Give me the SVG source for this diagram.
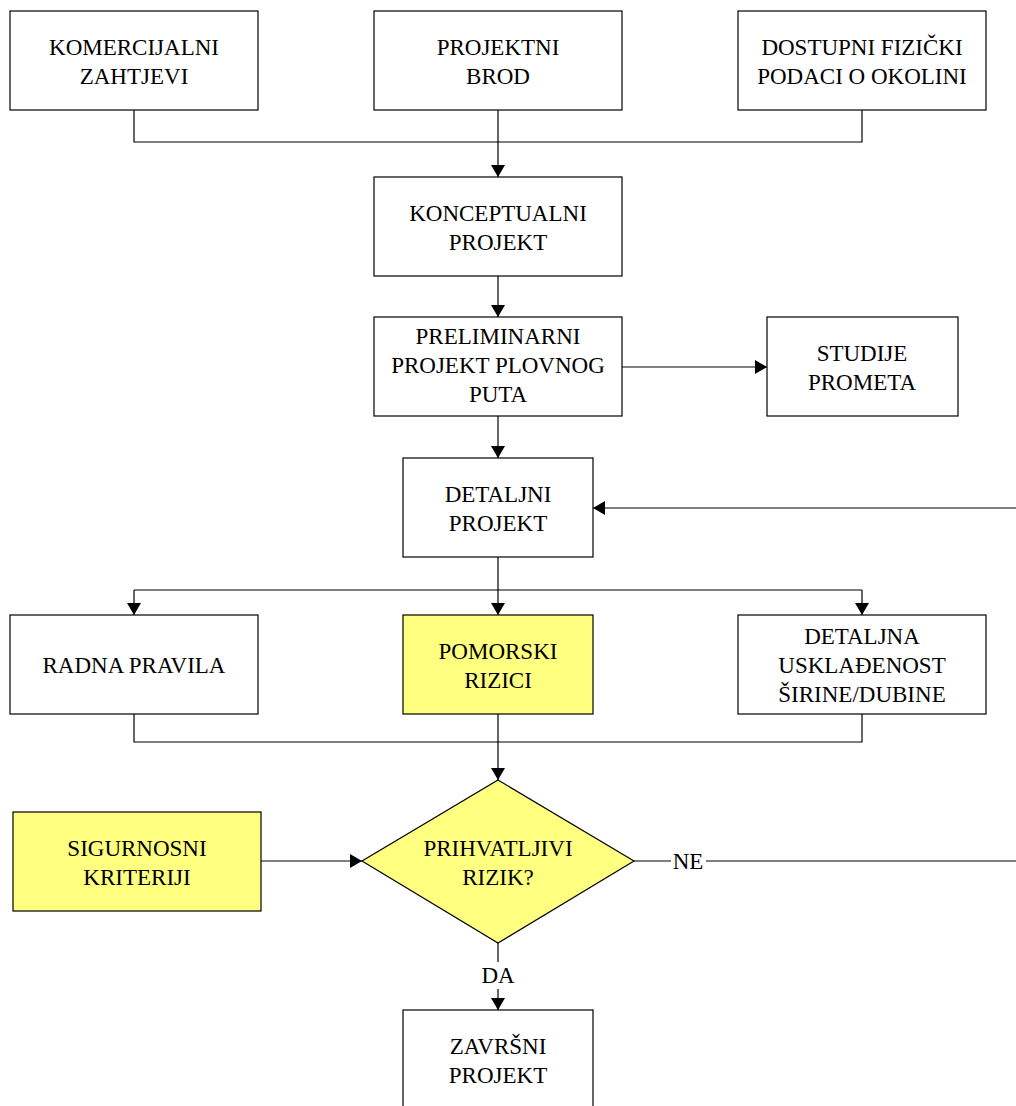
<svg xmlns="http://www.w3.org/2000/svg" width="1016" height="1106" viewBox="0 0 1016 1106">
<style>
.box{fill:#fff;stroke:#000;stroke-width:1.2}
.y{fill:#ffff80}
.t{font-family:"Liberation Serif","Times New Roman",serif;font-size:23px;text-anchor:middle;fill:#000}
.c{fill:none;stroke:#000;stroke-width:1.2}
</style>
<defs>
<marker id="ab" viewBox="0 0 12 14" refX="12" refY="7" markerWidth="12" markerHeight="14" markerUnits="userSpaceOnUse" orient="auto"><path d="M0,0 L12,7 L0,14 z" fill="#000"/></marker>
</defs>
<rect width="1016" height="1106" fill="#fff"/>
<g id="connectors">
<path class="c" d="M134,110 V142 H862 V110 M498,110 V142"/>
<path class="c" d="M498,142 V177" marker-end="url(#ab)"/>
<path class="c" d="M498,276 V317" marker-end="url(#ab)"/>
<path class="c" d="M622,367 H767" marker-end="url(#ab)"/>
<path class="c" d="M498,416 V458" marker-end="url(#ab)"/>
<path class="c" d="M1016,508 H593" marker-end="url(#ab)"/>
<path class="c" d="M498,557 V590 M134,590 H862"/>
<path class="c" d="M134,590 V615" marker-end="url(#ab)"/>
<path class="c" d="M498,590 V615" marker-end="url(#ab)"/>
<path class="c" d="M862,590 V615" marker-end="url(#ab)"/>
<path class="c" d="M134,714 V742 H862 V714 M498,714 V742"/>
<path class="c" d="M498,742 V780" marker-end="url(#ab)"/>
<path class="c" d="M261,861 H362" marker-end="url(#ab)"/>
<path class="c" d="M634,861 H671 M706,861 H1016"/>
<text class="t" x="688" y="869">NE</text>
<path class="c" d="M498,943 V962"/>
<text class="t" x="498" y="983">DA</text>
<path class="c" d="M498,989 V1010" marker-end="url(#ab)"/>
</g>
<g id="n1"><rect class="box" x="10" y="11" width="248" height="99"/><text class="t" x="134" y="55">KOMERCIJALNI</text><text class="t" x="134" y="84">ZAHTJEVI</text></g>
<g id="n2"><rect class="box" x="374" y="11" width="248" height="99"/><text class="t" x="498" y="55">PROJEKTNI</text><text class="t" x="498" y="84">BROD</text></g>
<g id="n3"><rect class="box" x="738" y="11" width="248" height="99"/><text class="t" x="862" y="55">DOSTUPNI FIZIČKI</text><text class="t" x="862" y="84">PODACI O OKOLINI</text></g>
<g id="n4"><rect class="box" x="374" y="177" width="248" height="99"/><text class="t" x="498" y="221">KONCEPTUALNI</text><text class="t" x="498" y="250">PROJEKT</text></g>
<g id="n5"><rect class="box" x="374" y="317" width="248" height="99"/><text class="t" x="498" y="344">PRELIMINARNI</text><text class="t" x="498" y="373">PROJEKT PLOVNOG</text><text class="t" x="498" y="402">PUTA</text></g>
<g id="n6"><rect class="box" x="767" y="317" width="191" height="99"/><text class="t" x="862" y="361">STUDIJE</text><text class="t" x="862" y="390">PROMETA</text></g>
<g id="n7"><rect class="box" x="403" y="458" width="190" height="99"/><text class="t" x="498" y="502">DETALJNI</text><text class="t" x="498" y="531">PROJEKT</text></g>
<g id="n8"><rect class="box" x="10" y="615" width="248" height="99"/><text class="t" x="134" y="673">RADNA PRAVILA</text></g>
<g id="n9"><rect class="box y" x="403" y="615" width="190" height="99"/><text class="t" x="498" y="659">POMORSKI</text><text class="t" x="498" y="688">RIZICI</text></g>
<g id="n10"><rect class="box" x="738" y="615" width="248" height="99"/><text class="t" x="862" y="644">DETALJNA</text><text class="t" x="862" y="673">USKLAĐENOST</text><text class="t" x="862" y="702">ŠIRINE/DUBINE</text></g>
<g id="n11"><rect class="box y" x="13" y="812" width="248" height="99"/><text class="t" x="137" y="856">SIGURNOSNI</text><text class="t" x="137" y="885">KRITERIJI</text></g>
<g id="n12"><path class="box y" d="M498,780 L634,861 L498,943 L362,861 Z"/><text class="t" x="498" y="856">PRIHVATLJIVI</text><text class="t" x="498" y="885">RIZIK?</text></g>
<g id="n13"><rect class="box" x="403" y="1010" width="190" height="110"/><text class="t" x="498" y="1054">ZAVRŠNI</text><text class="t" x="498" y="1083">PROJEKT</text></g>
</svg>
